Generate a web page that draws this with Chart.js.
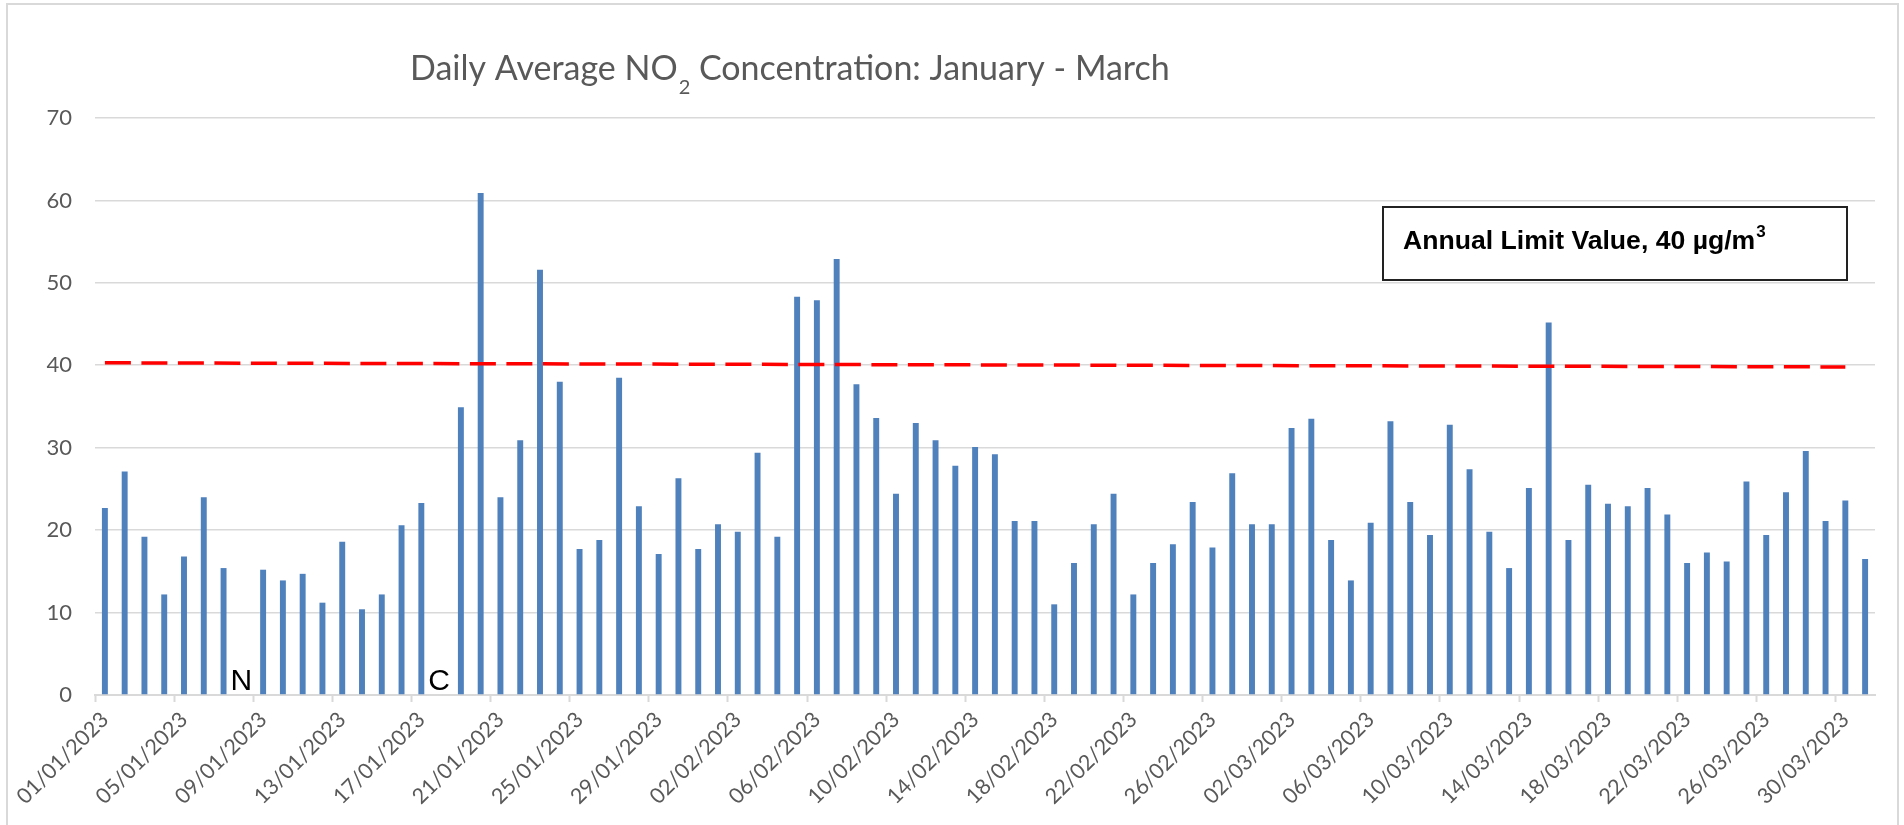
<!DOCTYPE html>
<html>
<head>
<meta charset="utf-8">
<script src="https://cdn.jsdelivr.net/npm/chart.js@4.4.0/dist/chart.umd.min.js"></script>
<style>
  html, body { margin: 0; padding: 0; background: #fff; overflow: hidden; }
  #wrap { position: relative; width: 1904px; height: 825px; }
  #frame { position: absolute; left: 6px; top: 3px; width: 1889px; height: 900px; border: 2px solid #d9d9d9; pointer-events: none; }
</style>
</head>
<body>
<div id="wrap">
  <canvas id="no2Chart" width="1904" height="825"></canvas>
  <div id="frame"></div>
</div>
<script>
// one category per day, 1 Jan - 31 Mar 2023
const days = [
  '01/01/2023','02/01/2023','03/01/2023','04/01/2023','05/01/2023','06/01/2023','07/01/2023','08/01/2023','09/01/2023','10/01/2023',
  '11/01/2023','12/01/2023','13/01/2023','14/01/2023','15/01/2023','16/01/2023','17/01/2023','18/01/2023','19/01/2023','20/01/2023',
  '21/01/2023','22/01/2023','23/01/2023','24/01/2023','25/01/2023','26/01/2023','27/01/2023','28/01/2023','29/01/2023','30/01/2023',
  '31/01/2023','01/02/2023','02/02/2023','03/02/2023','04/02/2023','05/02/2023','06/02/2023','07/02/2023','08/02/2023','09/02/2023',
  '10/02/2023','11/02/2023','12/02/2023','13/02/2023','14/02/2023','15/02/2023','16/02/2023','17/02/2023','18/02/2023','19/02/2023',
  '20/02/2023','21/02/2023','22/02/2023','23/02/2023','24/02/2023','25/02/2023','26/02/2023','27/02/2023','28/02/2023','01/03/2023',
  '02/03/2023','03/03/2023','04/03/2023','05/03/2023','06/03/2023','07/03/2023','08/03/2023','09/03/2023','10/03/2023','11/03/2023',
  '12/03/2023','13/03/2023','14/03/2023','15/03/2023','16/03/2023','17/03/2023','18/03/2023','19/03/2023','20/03/2023','21/03/2023',
  '22/03/2023','23/03/2023','24/03/2023','25/03/2023','26/03/2023','27/03/2023','28/03/2023','29/03/2023','30/03/2023','31/03/2023'
];

// daily mean NO2, ug/m3 (null = no data)
const janValues = [22.7, 27.1, 19.2, 12.2, 16.8, 24.0, 15.4, null, 15.2, 13.9,
                   14.7, 11.2, 18.6, 10.4, 12.2, 20.6, 23.3, null, 34.9, 60.9,
                   24.0, 30.9, 51.6, 38.0, 17.7, 18.8, 38.5, 22.9, 17.1, 26.3, 17.7];
const febValues = [20.7, 19.8, 29.4, 19.2, 48.3, 47.9, 52.9, 37.7, 33.6, 24.4,
                   33.0, 30.9, 27.8, 30.1, 29.2, 21.1, 21.1, 11.0, 16.0, 20.7,
                   24.4, 12.2, 16.0, 18.3, 23.4, 17.9, 26.9, 20.7];
const marValues = [20.7, 32.4, 33.5, 18.8, 13.9, 20.9, 33.2, 23.4, 19.4, 32.8,
                   27.4, 19.8, 15.4, 25.1, 45.2, 18.8, 25.5, 23.2, 22.9, 25.1,
                   21.9, 16.0, 17.3, 16.2, 25.9, 19.4, 24.6, 29.6, 21.1, 23.6, 16.5];
const no2Daily = janValues.concat(febValues, marValues);

// hand drawn limit line: value at its left end and right end
const limitEnds = [40.3, 39.8];
const limitEndIdx = [0, 88];

// missing days and the letters written on them
const gapDays = [7, 17];
const gapLetters = ['N', 'C'];

const limitLine = days.map(() => null);
limitEndIdx.forEach((d, i) => { limitLine[d] = limitEnds[i]; });

const labelFont = 'Lato, "Open Sans", sans-serif';

const extras = {
  id: 'extras',
  afterDraw(chart) {
    const ctx = chart.ctx;
    const x = chart.scales.x, y = chart.scales.y;
    ctx.save();

    // N / C notes on the empty days
    ctx.font = '30px "Liberation Sans", Arial, sans-serif';
    ctx.fillStyle = '#000';
    ctx.textAlign = 'center';
    ctx.textBaseline = 'alphabetic';
    gapDays.forEach((d, i) => {
      ctx.fillText(gapLetters[i], x.getPixelForValue(d) - 2, y.getPixelForValue(0) - 5);
    });

    // title with subscript 2
    ctx.textAlign = 'left';
    ctx.fillStyle = '#595959';
    let tx = 410;
    const ty = 80;
    ctx.font = '34px ' + labelFont;
    ctx.fillText('Daily Average NO', tx, ty);
    tx += ctx.measureText('Daily Average NO').width;
    ctx.font = '20px ' + labelFont;
    ctx.fillText('2', tx + 1, ty + 14);
    tx += ctx.measureText('2').width + 1;
    ctx.font = '34px ' + labelFont;
    ctx.fillText(' Concentration: January - March', tx, ty);

    // annotation box
    ctx.fillStyle = '#fff';
    ctx.fillRect(1383, 207, 464, 73);
    ctx.strokeStyle = '#222';
    ctx.lineWidth = 2;
    ctx.strokeRect(1383, 207, 464, 73);
    ctx.fillStyle = '#000';
    ctx.font = 'bold 26.6px "Liberation Sans", Arial, sans-serif';
    const boxText = 'Annual Limit Value, 40 \u00b5g/m';
    ctx.fillText(boxText, 1403, 249);
    const bw = ctx.measureText(boxText).width;
    ctx.font = 'bold 17px "Liberation Sans", Arial, sans-serif';
    ctx.fillText('3', 1403 + bw + 1, 237);

    ctx.restore();
  }
};

new Chart(document.getElementById('no2Chart'), {
  data: {
    labels: days,
    datasets: [
      {
        type: 'line',
        data: limitLine,
        order: 0,
        borderColor: '#ff0000',
        borderWidth: 3.5,
        borderDash: [26, 10.5],
        pointRadius: 0,
        spanGaps: true,
        fill: false
      },
      {
        type: 'bar',
        data: no2Daily,
        order: 1,
        backgroundColor: '#4f81bd',
        categoryPercentage: 1.0,
        barPercentage: 0.3
      }
    ]
  },
  options: {
    responsive: false,
    animation: false,
    layout: { padding: { left: 0, right: 29, top: 118, bottom: 0 } },
    plugins: {
      legend: { display: false },
      title: { display: false },
      tooltip: { enabled: false }
    },
    scales: {
      x: {
        offset: true,
        afterFit: (scale) => { scale.height = 130; },
        grid: {
          offset: true,
          drawOnChartArea: false,
          drawTicks: true,
          tickLength: 7,
          tickWidth: 2,
          color: (c) => (c.index % 4 === 0 ? '#d9d9d9' : 'rgba(0,0,0,0)'),
          tickColor: (c) => (c.index % 4 === 0 ? '#d9d9d9' : 'rgba(0,0,0,0)')
        },
        border: { display: true, color: '#d9d9d9', width: 2 },
        ticks: {
          autoSkip: false,
          minRotation: 45,
          maxRotation: 45,
          padding: 5,
          color: '#595959',
          font: { family: labelFont, size: 21.5 },
          callback: (val, i) => (i % 4 === 0 ? days[i] : '')
        }
      },
      y: {
        min: 0,
        max: 70,
        afterFit: (scale) => { scale.width = 95; },
        grid: { color: '#d9d9d9', lineWidth: 1.6, drawTicks: false },
        border: { display: false },
        ticks: {
          stepSize: 10,
          padding: 23,
          color: '#595959',
          font: { family: labelFont, size: 22 }
        }
      }
    }
  },
  plugins: [extras]
});
</script>
</body>
</html>
